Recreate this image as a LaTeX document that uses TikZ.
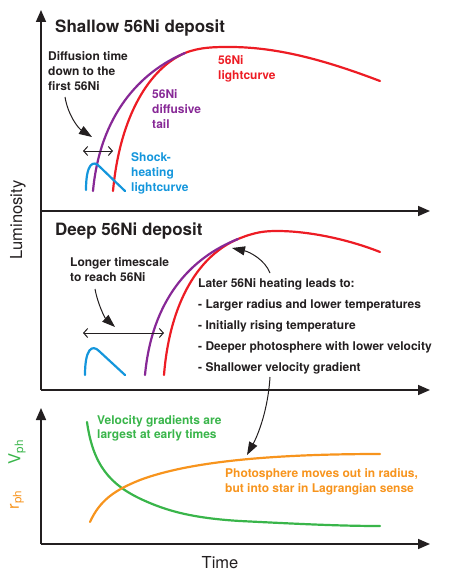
\documentclass[tikz,border=0pt]{standalone}
\usepackage{fontspec}
\setmainfont{TeX Gyre Heros}
\usepackage{tikz}
\usetikzlibrary{arrows.meta}
\definecolor{lcred}{RGB}{237,28,36}
\definecolor{lcpurple}{RGB}{135,40,150}
\definecolor{lcblue}{RGB}{20,150,220}
\definecolor{lcgreen}{RGB}{57,181,74}
\definecolor{lcorange}{RGB}{247,148,29}
\definecolor{axgray}{RGB}{35,31,32}

\begin{document}
\begin{tikzpicture}[x=1pt,y=-1pt,
  ax/.style={draw=axgray,line width=1.6pt,-{Triangle[length=12pt,width=10pt]}},
  crv/.style={line width=2.2pt,line cap=round},
  span/.style={draw=axgray,line width=1pt,{Straight Barb[length=4pt,width=9pt]}-{Straight Barb[length=4pt,width=9pt]}},
  pointer/.style={draw=axgray,line width=1pt,-{Triangle[length=13pt,width=9pt]}},
  ttl/.style={font=\bfseries\fontsize{17}{20}\selectfont,text=axgray,anchor=north west,inner sep=0pt},
  lbl/.style={font=\bfseries\fontsize{12}{15}\selectfont,align=left,anchor=north west,inner sep=0pt},
  axlbl/.style={font=\fontsize{16.5}{19}\selectfont,text=axgray,inner sep=0pt}]
  \useasboundingbox (0,0) rectangle (452,578);

  % axes
  \coordinate (o1) at (41,211);
  \coordinate (o2) at (41,390);
  \coordinate (o3) at (41,544);
  \draw[ax] (o2) -- (41,10);
  \draw[ax] (o1) -- (430,211);
  \draw[ax] (o2) -- (430,390);
  \draw[ax] (o3) -- (41,408);
  \draw[ax] (o3) -- (430,544);

  \node[axlbl,rotate=90] (lum) at (18,220) {Luminosity};
  \node[axlbl] (time) at (220,563) {Time};
  \node[axlbl,text=lcgreen,rotate=90] (vph) at (17,452) {V\textsubscript{ph}};
  \node[axlbl,text=lcorange,rotate=90] (rph) at (17,500) {r\textsubscript{ph}};

  % shallow deposit
  \node[ttl] (shallow) at (55,20) {Shallow 56Ni deposit};
  \draw[crv,lcred] (113,191) .. controls (120,115) and (150,68) .. (185,53)
    .. controls (200,47) and (215,47) .. (230,47)
    .. controls (280,47) and (330,62) .. (380,81);
  \draw[crv,lcpurple] (93,191) .. controls (100,115) and (140,72) .. (185,53);
  \draw[crv,lcblue] (86,190) .. controls (86,164) and (93,159) .. (100,167) -- (125,191);
  \draw[span] (83,151) -- (113,151);
  \draw[pointer] (65,97) .. controls (68,115) and (78,128) .. (92,137);
  \node[lbl,text=axgray] (difftime) at (48,51) {Diffusion time\\down to the\\first 56Ni};
  \node[lbl,text=lcred] (nilc) at (218,55) {56Ni\\lightcurve};
  \node[lbl,text=lcpurple] (nitail) at (152,89) {56Ni\\diffusive\\tail};
  \node[lbl,text=lcblue] (shock) at (131,152) {Shock-\\heating\\lightcurve};

  % deep deposit
  \node[ttl] (deep) at (55,223) {Deep 56Ni deposit};
  \draw[crv,lcred] (164,375) .. controls (170,300) and (200,255) .. (238,239)
    .. controls (255,232) and (265,231) .. (277,231)
    .. controls (310,231) and (350,240) .. (380,252);
  \draw[crv,lcpurple] (145,375) .. controls (152,300) and (190,258) .. (238,239);
  \draw[crv,lcblue] (85,375) .. controls (85,349) and (92,344) .. (99,351) -- (125,375);
  \draw[span] (83,333) -- (164,333);
  \draw[pointer] (95,289) .. controls (98,305) and (105,318) .. (115,327);
  \draw[pointer] (270,273) .. controls (265,260) and (250,252) .. (232,248);
  \draw[pointer] (270,377) .. controls (268,410) and (258,435) .. (247,455);
  \node[lbl,text=axgray] (longer) at (70,257) {Longer timescale\\to reach 56Ni};
  \node[lbl,text=axgray,font=\bfseries\fontsize{12}{21}\selectfont] (later) at (198,278)
    {Later 56Ni heating leads to:\\- Larger radius and lower temperatures\\- Initially rising temperature\\- Deeper photosphere with lower velocity\\- Shallower velocity gradient};

  % photosphere
  \draw[crv,lcgreen] (87,422) .. controls (93,465) and (110,485) .. (143,500)
    .. controls (165,510) and (190,518) .. (240,521)
    .. controls (300,524) and (340,526) .. (380,526);
  \draw[crv,lcorange] (90,522) .. controls (100,500) and (115,490) .. (140,480)
    .. controls (180,465) and (250,454) .. (380,454);
  \node[lbl,text=lcgreen,font=\bfseries\fontsize{12}{14.5}\selectfont] (vgrad) at (97,415)
    {Velocity gradients are\\largest at early times};
  \node[lbl,text=lcorange] (moves) at (225,468)
    {Photosphere moves out in radius,\\but into star in Lagrangian sense};
\end{tikzpicture}
\end{document}
